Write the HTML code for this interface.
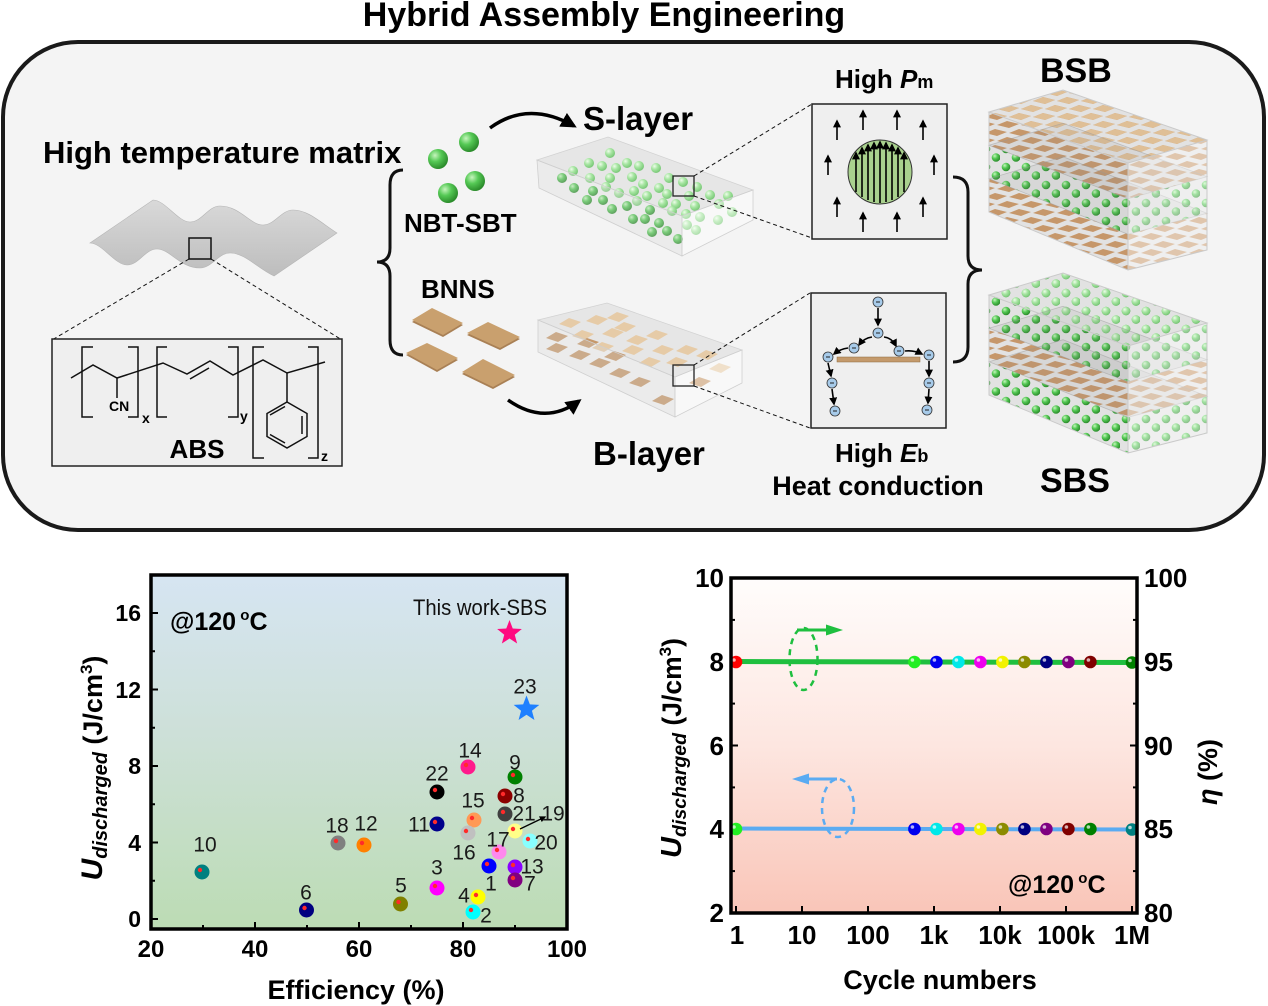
<!DOCTYPE html>
<html><head><meta charset="utf-8"><style>
html,body{margin:0;padding:0;background:#fff;}
svg{display:block;}
</style></head><body>
<svg width="1268" height="1006" viewBox="0 0 1268 1006" xmlns="http://www.w3.org/2000/svg" font-family="'Liberation Sans', Arial, sans-serif">
<defs>
  <radialGradient id="rgD" cx="35%" cy="32%" r="70%"><stop offset="0" stop-color="#c6f5bd"/><stop offset="0.45" stop-color="#55c955"/><stop offset="1" stop-color="#2a8a2a"/></radialGradient>
  <radialGradient id="rgL" cx="35%" cy="32%" r="70%"><stop offset="0" stop-color="#eefcea"/><stop offset="0.45" stop-color="#a8e6a3"/><stop offset="1" stop-color="#78c776"/></radialGradient>
  <linearGradient id="gLeft" x1="0" y1="0" x2="0" y2="1"><stop offset="0" stop-color="#d6e5f2"/><stop offset="0.45" stop-color="#cde0d8"/><stop offset="1" stop-color="#bcdcb4"/></linearGradient>
  <linearGradient id="gRight" x1="0" y1="0" x2="0" y2="1"><stop offset="0" stop-color="#fffdfc"/><stop offset="0.5" stop-color="#fde6e0"/><stop offset="1" stop-color="#f9c5b8"/></linearGradient>
  <linearGradient id="gWave" x1="0" y1="0" x2="0" y2="1"><stop offset="0" stop-color="#d9d9d9"/><stop offset="1" stop-color="#bdbdbd"/></linearGradient>
  <marker id="ah" viewBox="0 0 10 10" refX="8" refY="5" markerWidth="4.5" markerHeight="4.5" orient="auto"><path d="M0,0 L10,5 L0,10 z" fill="#000"/></marker>
  <marker id="ahs" viewBox="0 0 10 10" refX="8" refY="5" markerWidth="5" markerHeight="5" orient="auto"><path d="M0,0 L10,5 L0,10 z" fill="#000"/></marker>
  <g id="sd"><circle r="5" fill="url(#rgD)"/></g>
  <g id="sl"><circle r="5" fill="url(#rgL)"/></g>
  <g id="pl"><polygon points="-11,1 -1,-5 11,-1 1,5" fill="#c6986a"/></g>
  <g id="pll"><polygon points="-11,1 -1,-5 11,-1 1,5" fill="#e6cba7"/></g>
  <pattern id="pB" width="24" height="16" patternUnits="userSpaceOnUse">
    <polygon points="1,5 11,1 23,4 13,8" fill="#c6976a"/>
    <polygon points="-11,13 -1,9 11,12 1,16" fill="#c6976a"/>
    <polygon points="13,13 23,9 35,12 25,16" fill="#c6976a"/>
  </pattern>
  <pattern id="pBL" width="24" height="16" patternUnits="userSpaceOnUse">
    <polygon points="1,5 11,1 23,4 13,8" fill="#e2c39b"/>
    <polygon points="-11,13 -1,9 11,12 1,16" fill="#e2c39b"/>
    <polygon points="13,13 23,9 35,12 25,16" fill="#e2c39b"/>
  </pattern>
  <pattern id="pS" width="20" height="18" patternUnits="userSpaceOnUse">
    <circle cx="6" cy="5" r="4.3" fill="url(#rgD)"/>
    <circle cx="16" cy="13.5" r="4.3" fill="url(#rgD)"/>
  </pattern>
  <pattern id="pSL" width="20" height="18" patternUnits="userSpaceOnUse">
    <circle cx="6" cy="5" r="4.3" fill="url(#rgL)"/>
    <circle cx="16" cy="13.5" r="4.3" fill="url(#rgL)"/>
  </pattern>
</defs>

<!-- Title -->
<text x="604" y="26" font-size="34" font-weight="bold" text-anchor="middle" fill="#000">Hybrid Assembly Engineering</text>

<!-- Rounded panel -->
<rect x="3" y="42" width="1261" height="488" rx="75" ry="75" fill="#f4f4f4" stroke="#1a1a1a" stroke-width="4"/>

<!-- High temperature matrix -->
<text x="43" y="163" font-size="31" font-weight="bold">High temperature matrix</text>
<path d="M153,200 C165,200 178,222 190,222 C202,222 208,206 220,206 C240,206 250,225 263,225 C275,225 281,210 293,210 C308,210 320,222 337,233 L274,276 C257,268 245,253 230,253 C218,253 212,268 200,268 C180,268 170,249 157,249 C145,249 139,265 127,265 C115,265 102,243 90,243 Z" fill="url(#gWave)" stroke="#b5b5b5" stroke-width="0.6"/>
<rect x="189" y="238" width="22" height="21" fill="none" stroke="#111" stroke-width="1.5"/>
<line x1="189" y1="259" x2="52" y2="340" stroke="#111" stroke-width="1" stroke-dasharray="4,3"/>
<line x1="211" y1="259" x2="342" y2="340" stroke="#111" stroke-width="1" stroke-dasharray="4,3"/>

<!-- ABS box -->
<rect x="52" y="339" width="290" height="127" fill="#efefef" stroke="#222" stroke-width="1.5"/>
<g stroke="#111" stroke-width="1.5" fill="none">
  <polyline points="71,378 93,365 117,378 163,363 187,374 210,361 233,375 263,360 287,373 325,362"/>
  <line x1="190" y1="379" x2="209" y2="368"/>
  <line x1="117" y1="378" x2="117" y2="398"/>
  <polyline points="93,347 82,347 82,417 93,417"/>
  <polyline points="128,347 138,347 138,417 128,417"/>
  <polyline points="167,347 157,347 157,417 167,417"/>
  <polyline points="228,347 238,347 238,417 228,417"/>
  <polyline points="264,347 253,347 253,458 264,458"/>
  <polyline points="308,347 318,347 318,458 308,458"/>
  <line x1="287" y1="373" x2="287" y2="402"/>
  <polygon points="287,402 307,413.5 307,436.5 287,448 267,436.5 267,413.5"/>
  <line x1="302" y1="416" x2="302" y2="434"/>
  <line x1="285" y1="443" x2="270" y2="434.5"/>
  <line x1="270" y1="415" x2="285" y2="406.5"/>
</g>
<text x="109" y="411" font-size="14" font-weight="bold">CN</text>
<text x="142" y="423" font-size="14" font-weight="bold">x</text>
<text x="240" y="421" font-size="14" font-weight="bold">y</text>
<text x="321" y="461" font-size="14" font-weight="bold">z</text>
<text x="197" y="458" font-size="26" font-weight="bold" text-anchor="middle">ABS</text>

<!-- Left brace -->
<path d="M403,170 Q390,170 390,185 L390,248 Q390,262 377,262 Q390,262 390,276 L390,340 Q390,355 403,355" fill="none" stroke="#111" stroke-width="3"/>

<!-- NBT-SBT spheres -->
<circle cx="469" cy="142" r="10" fill="url(#rgD)"/>
<circle cx="438" cy="159" r="10" fill="url(#rgD)"/>
<circle cx="475" cy="181" r="10" fill="url(#rgD)"/>
<circle cx="448" cy="193" r="10" fill="url(#rgD)"/>
<text x="404" y="232" font-size="26" font-weight="bold">NBT-SBT</text>
<text x="421" y="298" font-size="26" font-weight="bold">BNNS</text>
<!-- BNNS plates -->
<g>
  <polygon points="412,322 432,310 463,325 443,337" fill="#a98055"/>
  <polygon points="412,320 432,308 463,323 443,335" fill="#c9a06e"/>
  <polygon points="467,335 488,324 520,339 500,350" fill="#a98055"/>
  <polygon points="467,333 488,322 520,337 500,348" fill="#c9a06e"/>
  <polygon points="406,355 427,345 458,360 437,372" fill="#a98055"/>
  <polygon points="406,353 427,343 458,358 437,370" fill="#c9a06e"/>
  <polygon points="462,374 483,361 515,377 493,389" fill="#a98055"/>
  <polygon points="462,372 483,359 515,375 493,387" fill="#c9a06e"/>
</g>

<!-- curved arrows -->
<path d="M490,128 Q528,100 574,126" fill="none" stroke="#000" stroke-width="3.5" marker-end="url(#ah)"/>
<path d="M508,400 Q545,426 579,401" fill="none" stroke="#000" stroke-width="3.5" marker-end="url(#ah)"/>

<text x="583" y="130" font-size="33" font-weight="bold">S-layer</text>
<text x="593" y="465" font-size="33" font-weight="bold">B-layer</text>

<!-- S-layer box -->
<polygon points="537,160 608,137 753,190 682,216" fill="#e6e6e6" stroke="#d2d2d2" stroke-width="0.8"/>
<g>
  <use href="#sl" x="610" y="153"/><use href="#sl" x="589" y="163"/><use href="#sl" x="602" y="166"/><use href="#sl" x="573" y="171"/>
  <use href="#sl" x="590" y="178"/><use href="#sl" x="610" y="178"/><use href="#sl" x="616" y="168"/><use href="#sl" x="627" y="163"/>
  <use href="#sl" x="639" y="166"/><use href="#sl" x="656" y="168"/><use href="#sl" x="632" y="177"/><use href="#sl" x="643" y="184"/>
  <use href="#sl" x="659" y="188"/><use href="#sl" x="669" y="178"/><use href="#sl" x="683" y="182"/><use href="#sl" x="697" y="187"/>
  <use href="#sl" x="710" y="195"/><use href="#sl" x="728" y="196"/><use href="#sl" x="606" y="187"/><use href="#sl" x="619" y="193"/>
  <use href="#sl" x="634" y="191"/><use href="#sl" x="647" y="196"/><use href="#sl" x="667" y="194"/><use href="#sl" x="689" y="196"/>
  <use href="#sl" x="719" y="204"/><use href="#sl" x="732" y="212"/><use href="#sl" x="637" y="201"/><use href="#sl" x="663" y="203"/>
  <use href="#sl" x="676" y="204"/><use href="#sl" x="695" y="206"/><use href="#sl" x="672" y="211"/><use href="#sl" x="686" y="214"/>
  <use href="#sl" x="700" y="217"/><use href="#sl" x="718" y="220"/><use href="#sl" x="687" y="225"/><use href="#sl" x="696" y="230"/>
  <use href="#sd" x="562" y="178"/><use href="#sd" x="574" y="188"/><use href="#sd" x="593" y="191"/><use href="#sd" x="587" y="200"/>
  <use href="#sd" x="603" y="200"/><use href="#sd" x="612" y="209"/><use href="#sd" x="627" y="206"/><use href="#sd" x="650" y="210"/>
  <use href="#sd" x="633" y="219"/><use href="#sd" x="645" y="219"/><use href="#sd" x="659" y="223"/><use href="#sd" x="652" y="232"/>
  <use href="#sd" x="667" y="231"/><use href="#sd" x="678" y="239"/>
</g>
<polygon points="537,160 682,216 682,256 539,188" fill="#d8d8d8" fill-opacity="0.3" stroke="#cfcfcf" stroke-width="0.8"/>
<polygon points="682,216 753,190 753,220 682,256" fill="#ffffff" fill-opacity="0.4" stroke="#cfcfcf" stroke-width="0.8"/>
<rect x="673" y="176" width="21" height="20" fill="none" stroke="#222" stroke-width="1.3"/>
<line x1="694" y1="176" x2="812" y2="104" stroke="#111" stroke-width="1" stroke-dasharray="4,3"/>
<line x1="694" y1="196" x2="812" y2="238" stroke="#111" stroke-width="1" stroke-dasharray="4,3"/>

<!-- B-layer box -->
<polygon points="538,320 607,303 742,350 675,377" fill="#e6e6e6" stroke="#d2d2d2" stroke-width="0.8"/>
<g>
  <use href="#pll" x="570" y="323"/><use href="#pll" x="597" y="320"/><use href="#pll" x="618" y="317"/><use href="#pll" x="583" y="335"/>
  <use href="#pll" x="613" y="333"/><use href="#pll" x="637" y="340"/><use href="#pll" x="657" y="335"/><use href="#pll" x="603" y="347"/>
  <use href="#pll" x="633" y="350"/><use href="#pll" x="663" y="350"/><use href="#pll" x="687" y="350"/><use href="#pll" x="707" y="355"/>
  <use href="#pll" x="720" y="368"/><use href="#pll" x="650" y="362"/><use href="#pll" x="677" y="362"/><use href="#pll" x="625" y="327"/>
  <use href="#pl" x="557" y="337"/><use href="#pl" x="557" y="348"/><use href="#pl" x="580" y="355"/><use href="#pl" x="600" y="363"/>
  <use href="#pl" x="620" y="373"/><use href="#pl" x="640" y="382"/><use href="#pl" x="663" y="400"/><use href="#pl" x="700" y="382"/>
  <use href="#pl" x="588" y="343"/><use href="#pl" x="615" y="356"/>
</g>
<polygon points="538,320 675,377 675,417 538,352" fill="#d8d8d8" fill-opacity="0.3" stroke="#cfcfcf" stroke-width="0.8"/>
<polygon points="675,377 742,350 742,383 675,417" fill="#ffffff" fill-opacity="0.4" stroke="#cfcfcf" stroke-width="0.8"/>
<rect x="673" y="365" width="21" height="21" fill="none" stroke="#222" stroke-width="1.3"/>
<line x1="694" y1="365" x2="810" y2="293" stroke="#111" stroke-width="1" stroke-dasharray="4,3"/>
<line x1="694" y1="386" x2="810" y2="428" stroke="#111" stroke-width="1" stroke-dasharray="4,3"/>

<!-- High Pm box -->
<text x="835" y="88" font-size="26" font-weight="bold">High <tspan font-style="italic">P</tspan><tspan font-size="18">m</tspan></text>
<rect x="812" y="104" width="135" height="135" fill="#efefef" stroke="#222" stroke-width="1.5"/>
<circle cx="880" cy="172" r="32" fill="#a9d18e" stroke="#333" stroke-width="1"/>
<g stroke="#000" stroke-width="1.6" marker-end="url(#ahs)">
  <line x1="856" y1="192" x2="856" y2="153"/>
  <line x1="862" y1="197" x2="862" y2="148"/>
  <line x1="868" y1="200" x2="868" y2="145"/>
  <line x1="874" y1="202" x2="874" y2="143"/>
  <line x1="880" y1="203" x2="880" y2="142"/>
  <line x1="886" y1="202" x2="886" y2="143"/>
  <line x1="892" y1="200" x2="892" y2="145"/>
  <line x1="898" y1="197" x2="898" y2="148"/>
  <line x1="904" y1="192" x2="904" y2="153"/>
  <line x1="837" y1="140" x2="837" y2="121"/>
  <line x1="863" y1="130" x2="863" y2="111"/>
  <line x1="897" y1="130" x2="897" y2="111"/>
  <line x1="923" y1="140" x2="923" y2="121"/>
  <line x1="828" y1="175" x2="828" y2="156"/>
  <line x1="934" y1="175" x2="934" y2="156"/>
  <line x1="837" y1="217" x2="837" y2="198"/>
  <line x1="863" y1="232" x2="863" y2="213"/>
  <line x1="897" y1="232" x2="897" y2="213"/>
  <line x1="923" y1="217" x2="923" y2="198"/>
</g>

<!-- High Eb box -->
<rect x="811" y="293" width="135" height="135" fill="#efefef" stroke="#222" stroke-width="1.5"/>
<rect x="837" y="357" width="83" height="5" fill="#c49a6c" stroke="#8a6a40" stroke-width="0.5"/>
<g stroke="#000" stroke-width="1.6" fill="none" marker-end="url(#ahs)">
  <line x1="878" y1="308" x2="878" y2="325"/>
  <path d="M872,337 Q864,338 859,345"/>
  <path d="M884,337 Q892,338 896,346"/>
  <path d="M848,348 Q840,349 834,354"/>
  <path d="M905,351 Q914,350 922,354"/>
  <line x1="828" y1="363" x2="831" y2="376"/>
  <line x1="929" y1="361" x2="929" y2="376"/>
  <line x1="832" y1="389" x2="834" y2="404"/>
  <line x1="929" y1="389" x2="928" y2="403"/>
</g>
<g fill="#a7cbea" stroke="#333" stroke-width="0.8">
  <circle cx="878" cy="302" r="5"/><circle cx="878" cy="333" r="5"/><circle cx="854" cy="348" r="5"/><circle cx="899" cy="351" r="5"/>
  <circle cx="828" cy="357" r="5"/><circle cx="929" cy="355" r="5"/><circle cx="832" cy="383" r="5"/><circle cx="929" cy="383" r="5"/>
  <circle cx="835" cy="411" r="5"/><circle cx="927" cy="410" r="5"/>
</g>
<g stroke="#222" stroke-width="1">
  <line x1="876" y1="302" x2="880" y2="302"/><line x1="876" y1="333" x2="880" y2="333"/><line x1="852" y1="348" x2="856" y2="348"/><line x1="897" y1="351" x2="901" y2="351"/>
  <line x1="826" y1="357" x2="830" y2="357"/><line x1="927" y1="355" x2="931" y2="355"/><line x1="830" y1="383" x2="834" y2="383"/><line x1="927" y1="383" x2="931" y2="383"/>
  <line x1="833" y1="411" x2="837" y2="411"/><line x1="925" y1="410" x2="929" y2="410"/>
</g>
<text x="835" y="462" font-size="26" font-weight="bold">High <tspan font-style="italic">E</tspan><tspan font-size="18">b</tspan></text>
<text x="878" y="495" font-size="27" font-weight="bold" text-anchor="middle">Heat conduction</text>

<!-- Right brace -->
<path d="M953,177 Q968,177 968,192 L968,256 Q968,270 982,270 Q968,270 968,284 L968,347 Q968,362 953,362" fill="none" stroke="#111" stroke-width="3"/>

<!-- BSB box -->
<text x="1040" y="82" font-size="34" font-weight="bold">BSB</text>
<polygon points="989,112 1063,90 1207,140 1207,250 1128,270 989,212" fill="#e2e2e2"/>
<polygon points="989,112 1063,90 1207,140 1207,176.7 1128,198.7 989,145.3" fill="url(#pB)"/>
<polygon points="989,112 1063,90 1207,140 1128,163" fill="url(#pBL)" opacity="0.9"/>
<polygon points="989,145.3 1128,198.7 1207,176.7 1207,213.3 1128,234.3 989,178.7" fill="url(#pS)"/>
<polygon points="989,178.7 1128,234.3 1207,213.3 1207,250 1128,270 989,212" fill="url(#pB)"/>
<polygon points="989,145.3 1063,123.3 1207,176.7 1128,198.7" fill="#888" fill-opacity="0.12" stroke="#9a9a9a" stroke-opacity="0.5" stroke-width="0.8"/>
<polygon points="989,178.7 1063,156.7 1207,213.3 1128,234.3" fill="#888" fill-opacity="0.12" stroke="#9a9a9a" stroke-opacity="0.5" stroke-width="0.8"/>
<polygon points="1128,163 1207,140 1207,250 1128,270" fill="#fff" fill-opacity="0.45"/>
<g fill="none" stroke="#cacaca" stroke-width="1">
  <polygon points="989,112 1063,90 1207,140 1128,163"/>
  <polyline points="989,112 989,212 1128,270 1207,250 1207,140"/>
  <line x1="1128" y1="163" x2="1128" y2="270"/>
</g>

<!-- SBS box -->
<polygon points="989,295 1063,273 1207,323 1207,433 1128,453 989,395" fill="#e2e2e2"/>
<polygon points="989,295 1063,273 1207,323 1207,359.7 1128,381.7 989,328.3" fill="url(#pS)"/>
<polygon points="989,295 1063,273 1207,323 1128,346" fill="url(#pSL)"/>
<polygon points="989,328.3 1128,381.7 1207,359.7 1207,396.3 1128,417.3 989,361.7" fill="url(#pB)"/>
<polygon points="989,361.7 1128,417.3 1207,396.3 1207,433 1128,453 989,395" fill="url(#pS)"/>
<polygon points="989,328.3 1063,306.3 1207,359.7 1128,381.7" fill="#888" fill-opacity="0.12" stroke="#9a9a9a" stroke-opacity="0.5" stroke-width="0.8"/>
<polygon points="989,361.7 1063,339.7 1207,396.3 1128,417.3" fill="#888" fill-opacity="0.12" stroke="#9a9a9a" stroke-opacity="0.5" stroke-width="0.8"/>
<polygon points="1128,346 1207,323 1207,433 1128,453" fill="#fff" fill-opacity="0.45"/>
<g fill="none" stroke="#cacaca" stroke-width="1">
  <polygon points="989,295 1063,273 1207,323 1128,346"/>
  <polyline points="989,295 989,395 1128,453 1207,433 1207,323"/>
  <line x1="1128" y1="346" x2="1128" y2="453"/>
</g>
<text x="1040" y="492" font-size="34" font-weight="bold">SBS</text>

<!-- ================= LEFT CHART ================= -->
<rect x="151" y="575" width="416" height="354" fill="url(#gLeft)"/>
<g stroke="#000" stroke-width="2">
  <line x1="255" y1="929" x2="255" y2="922"/><line x1="359" y1="929" x2="359" y2="922"/><line x1="463" y1="929" x2="463" y2="922"/>
  <line x1="203" y1="929" x2="203" y2="925"/><line x1="307" y1="929" x2="307" y2="925"/><line x1="411" y1="929" x2="411" y2="925"/><line x1="515" y1="929" x2="515" y2="925"/>
  <line x1="151" y1="919" x2="158" y2="919"/><line x1="151" y1="842.5" x2="158" y2="842.5"/><line x1="151" y1="766" x2="158" y2="766"/><line x1="151" y1="689.5" x2="158" y2="689.5"/><line x1="151" y1="613" x2="158" y2="613"/>
  <line x1="151" y1="880.75" x2="155" y2="880.75"/><line x1="151" y1="804.25" x2="155" y2="804.25"/><line x1="151" y1="727.75" x2="155" y2="727.75"/><line x1="151" y1="651.25" x2="155" y2="651.25"/>
</g>
<rect x="151" y="575" width="416" height="354" fill="none" stroke="#000" stroke-width="3.5"/>

<g font-size="23" font-weight="bold" text-anchor="end">
  <text x="141" y="927">0</text><text x="141" y="851">4</text><text x="141" y="774">8</text><text x="141" y="698">12</text><text x="141" y="621">16</text>
</g>
<g font-size="24" font-weight="bold" text-anchor="middle">
  <text x="151" y="957">20</text><text x="255" y="957">40</text><text x="359" y="957">60</text><text x="463" y="957">80</text><text x="567" y="957">100</text>
</g>
<text x="356" y="999" font-size="27" font-weight="bold" text-anchor="middle">Efficiency (%)</text>
<text transform="translate(102,768) rotate(-90)" text-anchor="middle" font-weight="bold"><tspan font-style="italic" font-size="30">U</tspan><tspan font-style="italic" font-size="20" dy="5">discharged</tspan><tspan font-size="27" dy="-5"> (J/cm</tspan><tspan font-size="17" dy="-10">3</tspan><tspan font-size="27" dy="10">)</tspan></text>

<text x="170" y="630" font-size="25" font-weight="bold">@120<tspan font-size="15" dy="-10"> o</tspan><tspan dy="10">C</tspan></text>
<text x="413" y="615" font-size="22" fill="#111" textLength="134" lengthAdjust="spacingAndGlyphs">This work-SBS</text>

<!-- stars -->
<polygon transform="translate(509.5,633)" points="0,-13 3.23,-4.45 12.36,-4.02 5.23,1.7 7.64,10.52 0,5.5 -7.64,10.52 -5.23,1.7 -12.36,-4.02 -3.23,-4.45" fill="#ff0a80"/>
<polygon transform="translate(526.5,709) scale(1.04)" points="0,-13 3.23,-4.45 12.36,-4.02 5.23,1.7 7.64,10.52 0,5.5 -7.64,10.52 -5.23,1.7 -12.36,-4.02 -3.23,-4.45" fill="#1e80ff"/>

<!-- data points -->
<g>
  <circle cx="202" cy="872" r="7.5" fill="#008080"/>
  <circle cx="306.5" cy="910" r="7.5" fill="#000080"/>
  <circle cx="400.5" cy="904" r="7.5" fill="#808000"/>
  <circle cx="338" cy="843" r="7.5" fill="#808080"/>
  <circle cx="364" cy="845" r="7.5" fill="#ff8000"/>
  <circle cx="437" cy="888" r="7.5" fill="#ff00ff"/>
  <circle cx="437" cy="824" r="7.5" fill="#00008b"/>
  <circle cx="437" cy="792" r="7.5" fill="#000000"/>
  <circle cx="468" cy="767" r="7.5" fill="#ff1a8c"/>
  <circle cx="474" cy="820" r="7.5" fill="#ff9955"/>
  <circle cx="468" cy="833" r="7.5" fill="#c0c0c0"/>
  <circle cx="499" cy="852" r="7.5" fill="#ff88ee"/>
  <circle cx="489" cy="866" r="7.5" fill="#0000ff"/>
  <circle cx="478" cy="897" r="7.5" fill="#ffff00"/>
  <circle cx="473" cy="912" r="7.5" fill="#00ffff"/>
  <circle cx="515" cy="777" r="7.5" fill="#008000"/>
  <circle cx="505" cy="796" r="7.5" fill="#8b0000"/>
  <circle cx="505" cy="814" r="7.5" fill="#404040"/>
  <circle cx="515" cy="831" r="7.5" fill="#ffff88"/>
  <circle cx="530" cy="841" r="7.5" fill="#88ffff"/>
  <circle cx="515" cy="867" r="7.5" fill="#8a00ff"/>
  <circle cx="515" cy="880" r="7.5" fill="#800080"/>
</g>
<g fill="#ff2a2a">
  <circle cx="200" cy="870" r="2.2"/><circle cx="304.5" cy="908" r="2.2"/><circle cx="398.5" cy="902" r="2.2"/><circle cx="336" cy="841" r="2.2"/>
  <circle cx="362" cy="843" r="2.2"/><circle cx="435" cy="886" r="2.2"/><circle cx="435" cy="822" r="2.2"/><circle cx="435" cy="790" r="2.2"/>
  <circle cx="466" cy="765" r="2.2"/><circle cx="472" cy="818" r="2.2"/><circle cx="466" cy="831" r="2.2"/><circle cx="497" cy="850" r="2.2"/>
  <circle cx="487" cy="864" r="2.2"/><circle cx="476" cy="895" r="2.2"/><circle cx="471" cy="910" r="2.2"/><circle cx="513" cy="775" r="2.2"/>
  <circle cx="503" cy="794" r="2.2"/><circle cx="503" cy="812" r="2.2"/><circle cx="513" cy="829" r="2.2"/><circle cx="528" cy="839" r="2.2"/>
  <circle cx="513" cy="865" r="2.2"/><circle cx="513" cy="878" r="2.2"/>
</g>
<line x1="520" y1="829" x2="545" y2="817" stroke="#000" stroke-width="1.3" marker-end="url(#ahs)"/>
<g font-size="21" fill="#1a1a1a" text-anchor="middle">
  <text x="205" y="851.5">10</text><text x="306" y="899.5">6</text><text x="401" y="892.5">5</text><text x="337" y="832.5">18</text>
  <text x="366" y="830.5">12</text><text x="437" y="874.5">3</text><text x="419" y="831.5">11</text><text x="437" y="780.5">22</text>
  <text x="470" y="757.5">14</text><text x="473" y="807.5">15</text><text x="464" y="859.5">16</text><text x="498" y="846.5">17</text>
  <text x="491" y="890.5">1</text><text x="464" y="902.5">4</text><text x="486" y="922.5">2</text><text x="515" y="769.5">9</text>
  <text x="519" y="802.5">8</text><text x="524" y="820.5">21</text><text x="553" y="820.5">19</text><text x="546" y="849.5">20</text>
  <text x="532" y="873.5">13</text><text x="530" y="890.5">7</text><text x="525" y="693.5">23</text>
</g>

<!-- ================= RIGHT CHART ================= -->
<rect x="731" y="578" width="406" height="335" fill="url(#gRight)"/>
<g stroke="#000" stroke-width="2">
  <line x1="731" y1="661.75" x2="738" y2="661.75"/><line x1="731" y1="745.5" x2="738" y2="745.5"/><line x1="731" y1="829.25" x2="738" y2="829.25"/>
  <line x1="731" y1="619.9" x2="735" y2="619.9"/><line x1="731" y1="703.6" x2="735" y2="703.6"/><line x1="731" y1="787.4" x2="735" y2="787.4"/><line x1="731" y1="871.1" x2="735" y2="871.1"/>
  <line x1="1137" y1="661.75" x2="1130" y2="661.75"/><line x1="1137" y1="745.5" x2="1130" y2="745.5"/><line x1="1137" y1="829.25" x2="1130" y2="829.25"/>
  <line x1="1137" y1="619.9" x2="1133" y2="619.9"/><line x1="1137" y1="703.6" x2="1133" y2="703.6"/><line x1="1137" y1="787.4" x2="1133" y2="787.4"/><line x1="1137" y1="871.1" x2="1133" y2="871.1"/>
  <line x1="736" y1="913" x2="736" y2="906"/><line x1="802" y1="913" x2="802" y2="906"/><line x1="868" y1="913" x2="868" y2="906"/><line x1="934" y1="913" x2="934" y2="906"/>
  <line x1="1000" y1="913" x2="1000" y2="906"/><line x1="1066" y1="913" x2="1066" y2="906"/><line x1="1132" y1="913" x2="1132" y2="906"/>
</g>

<!-- lines -->
<line x1="736" y1="661.5" x2="1137" y2="662.5" stroke="#1fbf3f" stroke-width="5"/>
<line x1="736" y1="828.5" x2="1137" y2="829.5" stroke="#5aabf2" stroke-width="4"/>

<!-- ellipses & arrows -->
<ellipse cx="803.5" cy="659" rx="14" ry="31" fill="none" stroke="#1fbf3f" stroke-width="2.5" stroke-dasharray="6,5"/>
<line x1="797" y1="630" x2="830" y2="630" stroke="#1fbf3f" stroke-width="3"/>
<polygon points="826,624.5 843,630 826,635.5" fill="#1fbf3f"/>
<ellipse cx="838" cy="808" rx="16" ry="29" fill="none" stroke="#5aabf2" stroke-width="2.5" stroke-dasharray="6,5"/>
<line x1="837" y1="779" x2="805" y2="779" stroke="#5aabf2" stroke-width="3"/>
<polygon points="809,773.5 792,779 809,784.5" fill="#5aabf2"/>

<!-- markers -->
<g>
  <circle cx="736" cy="662" r="6.3" fill="#ff0000"/>
  <circle cx="914.4" cy="662" r="6.3" fill="#22ee22"/>
  <circle cx="936.4" cy="662" r="6.3" fill="#0000ee"/>
  <circle cx="958.4" cy="662" r="6.3" fill="#00e8e8"/>
  <circle cx="980.4" cy="662" r="6.3" fill="#ee00ee"/>
  <circle cx="1002.4" cy="662" r="6.3" fill="#f2f200"/>
  <circle cx="1024.4" cy="662" r="6.3" fill="#8b8b00"/>
  <circle cx="1046.4" cy="662" r="6.3" fill="#000080"/>
  <circle cx="1068.4" cy="662" r="6.3" fill="#800080"/>
  <circle cx="1090.4" cy="662" r="6.3" fill="#800000"/>
  <circle cx="1132" cy="662.5" r="6.3" fill="#008000"/>
  <circle cx="736" cy="829" r="6.3" fill="#22ee22"/>
  <circle cx="914.4" cy="829" r="6.3" fill="#0000ee"/>
  <circle cx="936.4" cy="829" r="6.3" fill="#00e8e8"/>
  <circle cx="958.4" cy="829" r="6.3" fill="#ee00ee"/>
  <circle cx="980.4" cy="829" r="6.3" fill="#f2f200"/>
  <circle cx="1002.4" cy="829" r="6.3" fill="#8b8b00"/>
  <circle cx="1024.4" cy="829" r="6.3" fill="#000080"/>
  <circle cx="1046.4" cy="829" r="6.3" fill="#800080"/>
  <circle cx="1068.4" cy="829" r="6.3" fill="#800000"/>
  <circle cx="1090.4" cy="829" r="6.3" fill="#008000"/>
  <circle cx="1132" cy="829.5" r="6.3" fill="#008080"/>
</g>
<g fill="#ffffff" fill-opacity="0.7">
  <circle cx="734" cy="660" r="1.8"/><circle cx="912.4" cy="660" r="1.8"/><circle cx="934.4" cy="660" r="1.8"/><circle cx="956.4" cy="660" r="1.8"/>
  <circle cx="978.4" cy="660" r="1.8"/><circle cx="1000.4" cy="660" r="1.8"/><circle cx="1022.4" cy="660" r="1.8"/><circle cx="1044.4" cy="660" r="1.8"/>
  <circle cx="1066.4" cy="660" r="1.8"/><circle cx="1088.4" cy="660" r="1.8"/><circle cx="1130" cy="660.5" r="1.8"/>
  <circle cx="734" cy="827" r="1.8"/><circle cx="912.4" cy="827" r="1.8"/><circle cx="934.4" cy="827" r="1.8"/><circle cx="956.4" cy="827" r="1.8"/>
  <circle cx="978.4" cy="827" r="1.8"/><circle cx="1000.4" cy="827" r="1.8"/><circle cx="1022.4" cy="827" r="1.8"/><circle cx="1044.4" cy="827" r="1.8"/>
  <circle cx="1066.4" cy="827" r="1.8"/><circle cx="1088.4" cy="827" r="1.8"/><circle cx="1130" cy="827.5" r="1.8"/>
</g>

<rect x="731" y="578" width="406" height="335" fill="none" stroke="#000" stroke-width="3.5"/>

<g font-size="26" font-weight="bold" text-anchor="end">
  <text x="724" y="587">10</text><text x="724" y="671">8</text><text x="724" y="755">6</text><text x="724" y="838">4</text><text x="724" y="922">2</text>
</g>
<g font-size="26" font-weight="bold" text-anchor="start">
  <text x="1144" y="587">100</text><text x="1144" y="671">95</text><text x="1144" y="755">90</text><text x="1144" y="838">85</text><text x="1144" y="922">80</text>
</g>
<g font-size="26" font-weight="bold" text-anchor="middle">
  <text x="737" y="944">1</text><text x="802" y="944">10</text><text x="868" y="944">100</text><text x="934" y="944">1k</text>
  <text x="1000" y="944">10k</text><text x="1066" y="944">100k</text><text x="1132" y="944">1M</text>
</g>
<text x="940" y="989" font-size="27" font-weight="bold" text-anchor="middle">Cycle numbers</text>
<text transform="translate(681,748) rotate(-90)" text-anchor="middle" font-weight="bold"><tspan font-style="italic" font-size="29">U</tspan><tspan font-style="italic" font-size="19.5" dy="5">discharged</tspan><tspan font-size="26.5" dy="-5"> (J/cm</tspan><tspan font-size="17" dy="-10">3</tspan><tspan font-size="26.5" dy="10">)</tspan></text>
<text transform="translate(1217,772) rotate(-90)" text-anchor="middle" font-size="27" font-weight="bold"><tspan font-style="italic">η</tspan> (%)</text>
<text x="1008" y="893" font-size="25" font-weight="bold">@120<tspan font-size="15" dy="-10"> o</tspan><tspan dy="10">C</tspan></text>

</svg>
</body></html>
